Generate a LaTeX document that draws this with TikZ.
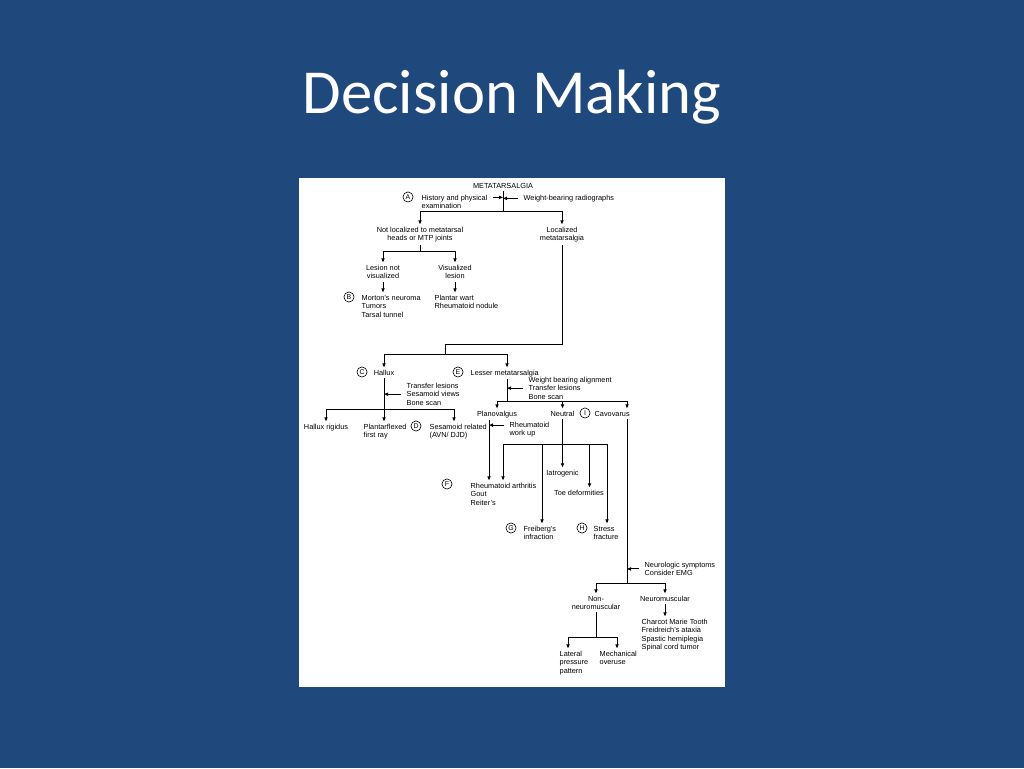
\documentclass[tikz,border=0pt]{standalone}
\usepackage{fontspec}
\setmainfont{Liberation Sans}
\newfontfamily\titlefont{Carlito}
\usetikzlibrary{arrows.meta,calc}
\definecolor{bgblue}{RGB}{31,73,125}
\tikzset{
  txt/.style={font=\fontsize{5.5}{6.4}\selectfont, inner sep=0pt, outer sep=2pt, yshift=1.5pt},
  txtl/.style={txt, align=left, anchor=north west},
  txtc/.style={txt, align=center, anchor=north},
  circ/.style={circle, draw, line width=0.45pt, inner sep=0pt, minimum size=7.6pt, font=\fontsize{5.2}{5.2}\selectfont},
  conn/.style={line width=0.7pt},
  arr/.style={conn, -{Triangle[length=3pt,width=2.4pt]}}
}
\begin{document}
\begin{tikzpicture}[x=0.75pt,y=-0.75pt]
\fill[bgblue] (0,0) rectangle (1024,768);
\useasboundingbox (0,0) rectangle (1024,768);
\fill[white] (298.5,178) rectangle (725,687);
\node[font=\titlefont\fontsize{47}{52}\selectfont, text=white, anchor=base, inner sep=0pt] (title) at (512,113) {Decision Making};

% ---- nodes ----
\node[txtc] (meta) at (503,182.3) {METATARSALGIA};
\node[circ] (cA) at (408,197) {A};
\node[txtl] (hist) at (419,194.3) {History and physical\\examination};
\node[txtl] (wbr) at (521,194.3) {Weight-bearing radiographs};
\node[txtc] (notloc) at (420,226.3) {Not localized to metatarsal\\heads or MTP joints};
\node[txtc] (loc) at (562,226.3) {Localized\\metatarsalgia};
\node[txtc] (lnv) at (383,264.3) {Lesion not\\visualized};
\node[txtc] (vl) at (455,264.3) {Visualized\\lesion};
\node[circ] (cB) at (349,297) {B};
\node[txtl] (mort) at (359,294.3) {Morton's neuroma\\Tumors\\Tarsal tunnel};
\node[txtl] (plantar) at (432,294.3) {Plantar wart\\Rheumatoid nodule};

\node[circ] (cC) at (362,372) {C};
\node[txtc] (hallux) at (384,369.3) {Hallux};
\node[circ] (cE) at (458,372) {E};
\node[txtl] (lesser) at (468,369.3) {Lesser metatarsalgia};
\node[txtl] (tl) at (404,382.3) {Transfer lesions\\Sesamoid views\\Bone scan};
\node[txtc] (hr) at (326,423.3) {Hallux rigidus};
\node[txtl] (pf) at (361,423.3) {Plantarflexed\\first ray};
\node[circ] (cD) at (416,426) {D};
\node[txtl] (sr) at (427,423.3) {Sesamoid related\\(AVN/ DJD)};
\node[txtl] (wba) at (526,376.3) {Weight bearing alignment\\Transfer lesions\\Bone scan};
\node[txtc] (pv) at (497,410.3) {Planovalgus};
\node[txtc] (neu) at (562.5,410.3) {Neutral};
\node[circ] (cI) at (585,413) {I};
\node[txtl] (cav) at (592,410.3) {Cavovarus};
\node[txtl] (rwu) at (507,421.3) {Rheumatoid\\work up};
\node[txtc] (iat) at (562.5,469.3) {Iatrogenic};
\node[circ] (cF) at (447,484) {F};
\node[txtl] (ra) at (468,482.3) {Rheumatoid arthritis\\Gout\\Reiter's};
\node[txtc] (toe) at (579,489.3) {Toe deformities};
\node[circ] (cG) at (511,528) {G};
\node[txtl] (frei) at (521,525.3) {Freiberg's\\infraction};
\node[circ] (cH) at (582,528) {H};
\node[txtl] (stress) at (591,525.3) {Stress\\fracture};
\node[txtl] (neuro) at (642,561.3) {Neurologic symptoms\\Consider EMG};
\node[txtc] (nonn) at (596,595.3) {Non-\\neuromuscular};
\node[txtc] (nm) at (665,595.3) {Neuromuscular};
\node[txtl] (cmt) at (639,618.3) {Charcot Marie Tooth\\Freidreich's ataxia\\Spastic hemiplegia\\Spinal cord tumor};
\node[txtl] (lat) at (557,650.3) {Lateral\\pressure\\pattern};
\node[txtl] (mech) at (597,650.3) {Mechanical\\overuse};

% ---- junction coordinates ----
\coordinate (j0) at (503,197);
\coordinate (j1) at (503,211);
\coordinate (j2) at (420,251);
\coordinate (j3) at (562,344);
\coordinate (j4) at (445,344);
\coordinate (j5) at (445,354);
\coordinate (lesx) at (507,0);
\coordinate (j6) at (384,409);
\coordinate (j7) at (454,409);
\coordinate (j8) at (507,401);
\coordinate (cavx) at (627,0);
\coordinate (pvx) at (489,0);
\coordinate (b1) at (503,444);
\coordinate (b2) at (607,444);
\coordinate (b3) at (542,444);
\coordinate (b4) at (589.5,444);
\coordinate (j9) at (627,583);
\coordinate (j10) at (596,637);
\coordinate (l1) at (568,637);
\coordinate (l2) at (617,637);

% ---- connectors ----
\draw[conn] (meta) -- (j1);
\coordinate (ha1) at ([shift={(2pt,3.4pt)}]hist.east);
\draw[arr] (ha1) -- (ha1 -| j0);
\draw[arr] ([xshift=-2pt]wbr.west) -- (wbr.west -| j0);
\draw[arr] (j1) -| (notloc);
\draw[arr] (j1) -| (loc);
\draw[conn] (notloc) -- (j2);
\draw[arr] (j2) -| (lnv);
\draw[arr] (j2) -| (vl);
\draw[arr] (lnv) -- (lnv |- mort.north);
\draw[arr] (vl) -- (vl |- plantar.north);
\draw[conn] (loc) -- (j3) -- (j4) -- (j5);
\draw[arr] (j5) -| (hallux);
\draw[arr] (j5) -| (lesx |- lesser.north);

\draw[conn] (hallux) -- (j6);
\draw[arr] (j6) -| (hr);
\draw[arr] (j6) -- (j6 |- pf.north);
\draw[conn] (j6) -- (j7);
\draw[arr] (j7) -- (j7 |- sr.north);
\draw[arr] ([xshift=-2pt]tl.west) -- (tl.west -| j6);

\draw[conn] (lesx |- lesser.south) -- (j8);
\draw[arr] ([xshift=-2pt]wba.west) -- (wba.west -| j8);
\draw[arr] (j8) -| (pv);
\draw[arr] (j8) -| (neu);
\draw[arr] (j8) -| (cavx |- cav.north);

\draw[arr] (pvx |- pv.south) -- (pvx |- ra.north);
\coordinate (rwuA) at ([shift={(-2pt,3.4pt)}]rwu.west);
\draw[arr] (rwuA) -- (rwuA -| pvx);
\draw[arr] (neu) -- (iat);
\draw[conn] (b1) -- (b2);
\draw[arr] (b1) -- (b1 |- ra.north);
\draw[arr] (b3) -- (b3 |- frei.north);
\draw[arr] (b4) -- (b4 |- toe.north);
\draw[arr] (b2) -- (b2 |- stress.north);

\draw[conn] (cavx |- cav.south) -- (j9);
\draw[arr] ([xshift=-2pt]neuro.west) -- (neuro.west -| j9);
\draw[arr] (j9) -| (nonn);
\draw[arr] (j9) -| (nm);
\draw[arr] (nm) -- (nm |- cmt.north);
\draw[conn] (nonn) -- (j10);
\draw[conn] (l1) -- (l2);
\draw[arr] (l1) -- (l1 |- lat.north);
\draw[arr] (l2) -- (l2 |- mech.north);
\end{tikzpicture}
\end{document}
